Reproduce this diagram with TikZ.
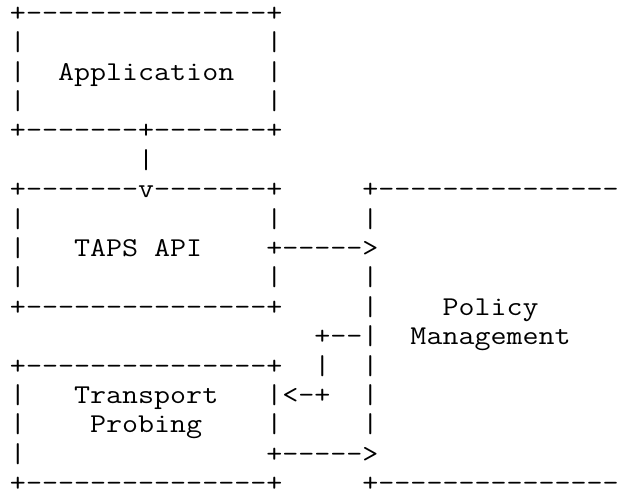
\documentclass[tikz,border=0pt]{standalone}
\newcommand\asdash[1]{\foreach\k in {1,...,#1}{\kern0pt-\kern0pt}}
\newcommand\asspace[1]{\foreach\k in {1,...,#1}{\ }}
\newcommand\asrow[1]{\scalebox{1.1437}[1]{#1}}
\tikzset{
  asc/.style={anchor=base west, inner sep=0pt, outer sep=0pt,
    font=\fontsize{27.2}{30}\selectfont\ttfamily, text=black}
}
\begin{document}
\begin{tikzpicture}[x=1pt,y=1pt]
\useasboundingbox (0,0) rectangle (624,-488);
\clip (0,0) rectangle (624,-488);
\def\bl#1{-(21.3+29.4*#1)}
\node[asc] (r0)  at (10,{\bl{0}})  {\asrow{+\asdash{15}+}};
\node[asc] (r1)  at (10,{\bl{1}})  {\asrow{|\asspace{15}|}};
\node[asc] (r2)  at (10,{\bl{2}})  {\asrow{|\asspace{2}Application\asspace{2}|}};
\node[asc] (r3)  at (10,{\bl{3}})  {\asrow{|\asspace{15}|}};
\node[asc] (r4)  at (10,{\bl{4}})  {\asrow{+\asdash{7}+\asdash{7}+}};
\node[asc] (r5)  at (10,{\bl{5}})  {\asrow{\asspace{8}|}};
\node[asc] (r6)  at (10,{\bl{6}})  {\asrow{+\asdash{7}v\asdash{7}+\asspace{5}+\asdash{15}}};
\node[asc] (r7)  at (10,{\bl{7}})  {\asrow{|\asspace{15}|\asspace{5}|}};
\node[asc] (r8)  at (10,{\bl{8}})  {\asrow{|\asspace{3}TAPS\ API\asspace{4}+\asdash{5}>}};
\node[asc] (r9)  at (10,{\bl{9}})  {\asrow{|\asspace{15}|\asspace{5}|}};
\node[asc] (r10) at (10,{\bl{10}}) {\asrow{+\asdash{15}+\asspace{5}|\asspace{4}Policy}};
\node[asc] (r11) at (10,{\bl{11}}) {\asrow{\asspace{19}+\asdash{2}|\asspace{2}Management}};
\node[asc] (r12) at (10,{\bl{12}}) {\asrow{+\asdash{15}+\asspace{2}|\asspace{2}|}};
\node[asc] (r13) at (10,{\bl{13}}) {\asrow{|\asspace{3}Transport\asspace{3}|<\kern0pt-\kern0pt+\asspace{2}|}};
\node[asc] (r14) at (10,{\bl{14}}) {\asrow{|\asspace{4}Probing\asspace{4}|\asspace{5}|}};
\node[asc] (r15) at (10,{\bl{15}}) {\asrow{|\asspace{15}+\asdash{5}>}};
\node[asc] (r16) at (10,{\bl{16}}) {\raisebox{0pt}[\height][-4.5pt]{\asrow{+\asdash{15}+\asspace{5}+\asdash{15}}}};
\end{tikzpicture}
\end{document}
